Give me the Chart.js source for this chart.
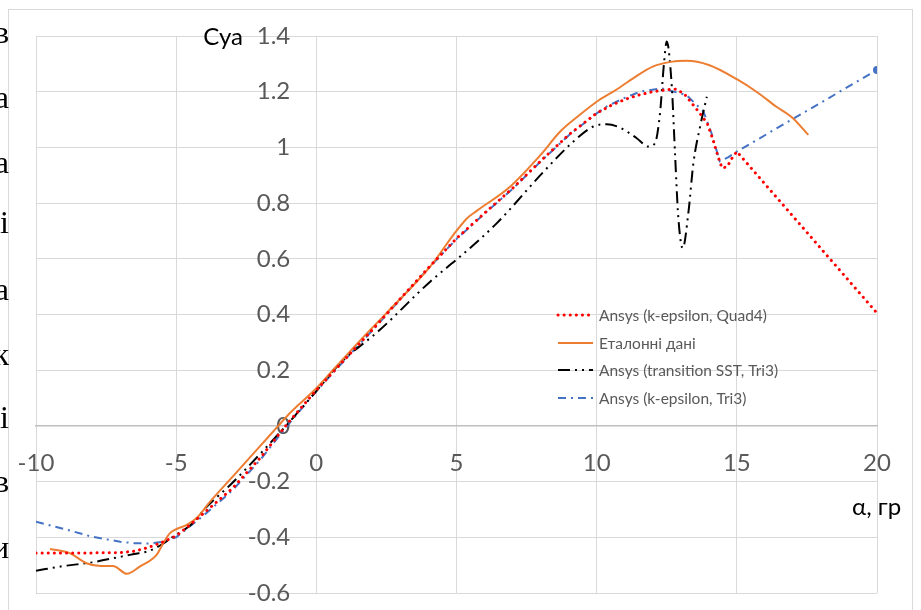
<!DOCTYPE html>
<html>
<head>
<meta charset="utf-8">
<script src="https://cdn.jsdelivr.net/npm/chart.js@4.4.0/dist/chart.umd.min.js"></script>
<style>
  body { margin: 0; background: #fff; }
</style>
</head>
<body>
<canvas id="myChart" width="921" height="610"></canvas>
<script>
  // Ansys (k-epsilon, Quad4)
  var quadAlpha = [-10, -9, -8, -7, -6.5, -6, -5.5, -5, -4.5, -4, -3, -2, -1, 0, 0.5, 1, 2, 3, 4, 5, 6, 7, 8, 9, 10, 10.5, 11, 11.5, 12, 12.5, 12.8, 13.1, 13.4, 13.7, 13.95, 14.15, 14.33, 14.47, 14.65, 14.85, 15, 20];
  var quadCy = [-0.456, -0.456, -0.456, -0.455, -0.45, -0.437, -0.418, -0.395, -0.355, -0.312, -0.225, -0.115, 0.012, 0.128, 0.183, 0.237, 0.345, 0.457, 0.568, 0.673, 0.764, 0.853, 0.951, 1.045, 1.123, 1.15, 1.172, 1.188, 1.2, 1.207, 1.209, 1.195, 1.158, 1.12, 1.085, 1.027, 0.967, 0.926, 0.93, 0.965, 0.985, 0.405];

  // Еталонні дані
  var refAlpha = [-9.5, -8.8, -8.2, -7.7, -7.25, -6.76, -6.3, -5.7, -5.46, -5.22, -4.62, -4.27, -3.79, -3, -2, -1.36, -1, 0, 0.5, 1.5, 2.5, 4.06, 4.89, 5.37, 5.72, 6.91, 8, 8.7, 9.4, 10.1, 10.7, 11.3, 12, 12.7, 13.2, 14, 15, 15.7, 16.4, 17, 17.55];
  var refCy = [-0.442, -0.457, -0.493, -0.503, -0.503, -0.531, -0.505, -0.463, -0.421, -0.385, -0.355, -0.331, -0.272, -0.184, -0.072, 0, 0.04, 0.135, 0.19, 0.3, 0.405, 0.572, 0.686, 0.745, 0.772, 0.859, 0.973, 1.057, 1.117, 1.171, 1.207, 1.248, 1.29, 1.308, 1.311, 1.296, 1.245, 1.2, 1.147, 1.105, 1.045];

  // Ansys (transition SST, Tri3)
  var sstAlpha = [-10, -9, -8, -7, -6.5, -6, -5.5, -5.1, -4.4, -4, -3, -2, -1, 0, 0.85, 2.27, 4.06, 5.13, 6.44, 8.1, 9.17, 9.88, 10.36, 10.83, 11.43, 11.84, 12.08, 12.26, 12.4, 12.5, 12.68, 12.8, 12.91, 13.07, 13.27, 13.45, 13.69, 13.93];
  var sstCy = [-0.52, -0.503, -0.49, -0.47, -0.46, -0.45, -0.425, -0.397, -0.349, -0.3, -0.205, -0.1, 0.01, 0.125, 0.225, 0.345, 0.518, 0.608, 0.728, 0.912, 1.021, 1.075, 1.083, 1.071, 1.033, 1.003, 1.015, 1.123, 1.3, 1.38, 1.218, 0.967, 0.752, 0.638, 0.764, 0.943, 1.075, 1.182];

  // Ansys (k-epsilon, Tri3)
  var triAlpha = [-10, -9, -8, -7, -6.5, -6, -5.5, -5, -4, -3, -2, -1, 0, 1, 2, 3, 4, 5, 6, 7, 8, 9, 10, 10.36, 11, 11.55, 12.32, 13.2, 13.81, 14.1, 14.39, 14.7, 15, 20];
  var triCy = [-0.344, -0.37, -0.398, -0.416, -0.421, -0.422, -0.417, -0.4, -0.32, -0.232, -0.122, 0.005, 0.125, 0.235, 0.343, 0.455, 0.566, 0.671, 0.762, 0.851, 0.949, 1.043, 1.122, 1.147, 1.178, 1.2, 1.212, 1.188, 1.129, 1.05, 0.95, 0.965, 0.985, 1.278];

  var xTicks = [-10, -5, 0, 5, 10, 15, 20];
  var yTicks = [-0.6, -0.4, -0.2, 0, 0.2, 0.4, 0.6, 0.8, 1, 1.2, 1.4];

  // letters of the page text cut off on the left
  var sideText = ['в', 'а', 'а', 'і', 'а', 'к', 'і', 'в', 'и'];
  var sideY = [43, 108, 173, 233, 300, 365, 428, 492, 558];

  function pairs(xs, ys) {
    return xs.map(function (x, i) { return {x: x, y: ys[i]}; });
  }

  var decor = {
    id: 'decor',
    beforeDraw: function (chart) {
      var c = chart.ctx;
      c.save();
      c.fillStyle = '#fff';
      c.fillRect(0, 0, chart.width, chart.height);
      c.strokeStyle = '#d9d9d9';
      c.lineWidth = 1;
      c.strokeRect(8.5, 9.5, 904, 640);
      c.fillStyle = '#000';
      c.font = '32px "Liberation Serif"';
      c.textAlign = 'right';
      c.textBaseline = 'alphabetic';
      sideText.forEach(function (t, i) { c.fillText(t, 9, sideY[i]); });
      c.restore();
    },
    afterDraw: function (chart) {
      var c = chart.ctx;
      c.save();
      c.fillStyle = '#000';
      c.font = '24px Lato';
      c.textBaseline = 'middle';
      c.textAlign = 'right';
      c.fillText('Cya', 243, 37);
      c.textAlign = 'left';
      c.fillText('α, гр', 852, 507);

      // legend
      var rows = [315, 343, 370, 398];
      c.font = '15.5px Lato';
      chart.data.datasets.forEach(function (ds, i) {
        var y = rows[i];
        c.strokeStyle = ds.borderColor;
        c.lineWidth = ds.borderWidth;
        c.lineCap = ds.borderCapStyle || 'butt';
        c.setLineDash(ds.borderDash || []);
        c.beginPath();
        c.moveTo(558, y);
        c.lineTo(593, y);
        c.stroke();
        c.setLineDash([]);
        c.fillStyle = '#595959';
        c.fillText(ds.label, 599, y + 1);
      });
      c.restore();
    }
  };

  var ctx = document.getElementById('myChart').getContext('2d');
  var chart = new Chart(ctx, {
    type: 'line',
    data: {
      datasets: [
        {
          label: 'Ansys (k-epsilon, Quad4)',
          data: pairs(quadAlpha, quadCy),
          borderColor: '#ff0000',
          borderWidth: 3,
          borderDash: [0.1, 6],
          borderCapStyle: 'round',
          tension: 0,
          pointRadius: 0
        },
        {
          label: 'Еталонні дані',
          data: pairs(refAlpha, refCy),
          borderColor: '#ed7d31',
          borderWidth: 2,
          cubicInterpolationMode: 'monotone',
          pointRadius: 0
        },
        {
          label: 'Ansys (transition SST, Tri3)',
          data: pairs(sstAlpha, sstCy),
          borderColor: '#000000',
          borderWidth: 2,
          borderDash: [12, 5, 2, 5, 2, 5],
          cubicInterpolationMode: 'monotone',
          pointRadius: 0
        },
        {
          label: 'Ansys (k-epsilon, Tri3)',
          data: pairs(triAlpha, triCy),
          borderColor: '#4472c4',
          borderWidth: 2,
          borderDash: [8, 5, 2, 5],
          tension: 0,
          pointRadius: function (c) { return c.dataIndex === triAlpha.length - 1 ? 4 : 0; },
          pointBackgroundColor: '#4472c4',
          pointBorderWidth: 0
        }
      ]
    },
    options: {
      responsive: false,
      animation: false,
      layout: { padding: { left: 36, top: 36, right: 44, bottom: 17 } },
      plugins: { legend: { display: false }, tooltip: { enabled: false } },
      scales: {
        x: {
          type: 'linear',
          position: { y: 0 },
          min: -10,
          max: 20,
          afterBuildTicks: function (s) { s.ticks = xTicks.map(function (v) { return {value: v}; }); },
          afterFit: function (s) { s.paddingLeft = 0; s.paddingRight = 0; },
          ticks: { color: '#595959', font: { family: 'Lato', size: 24 }, padding: 23 },
          grid: { color: '#d9d9d9', drawTicks: false },
          border: { color: '#bfbfbf', width: 1.5 }
        },
        y: {
          type: 'linear',
          // labels sit right-aligned at this x, a little left of the x=0 line
          position: { x: -0.93 },
          min: -0.6,
          max: 1.4,
          afterBuildTicks: function (s) { s.ticks = yTicks.map(function (v) { return {value: v}; }); },
          afterFit: function (s) { s.paddingTop = 0; s.paddingBottom = 0; },
          ticks: {
            color: '#595959',
            font: { family: 'Lato', size: 24 },
            padding: 0,
            callback: function (v) { return String(Math.round(v * 10) / 10); }
          },
          grid: { color: '#d9d9d9', drawTicks: false },
          border: { display: false }
        }
      }
    },
    plugins: [decor]
  });
</script>
</body>
</html>
